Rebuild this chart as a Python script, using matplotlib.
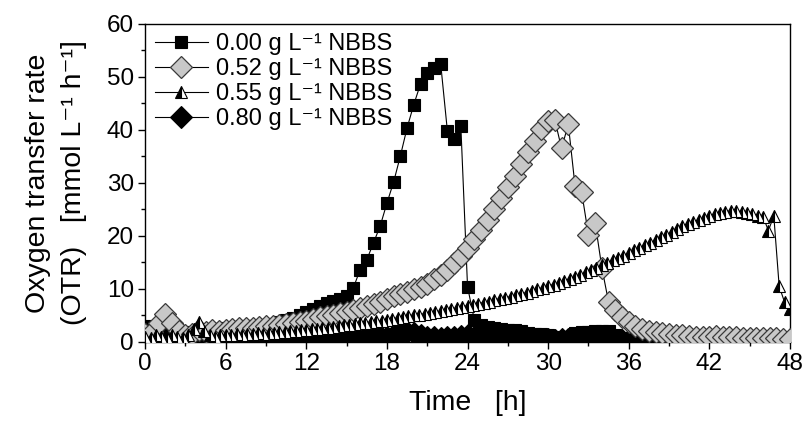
import numpy as np
import matplotlib
matplotlib.use("Agg")
import matplotlib.pyplot as plt
from matplotlib.ticker import MultipleLocator

plt.rcParams['font.family'] = ['Liberation Sans', 'DejaVu Sans']

labels = ["0.00 g L⁻¹ NBBS", "0.52 g L⁻¹ NBBS",
          "0.55 g L⁻¹ NBBS", "0.80 g L⁻¹ NBBS"]

# sampling step (h) of each series
dt_sq = 0.5
dt_gd = 0.5
dt_tr = 0.4
dt_bd = 0.5

otr_000 = [3.0, 2.8, 2.6, 2.3, 2.0, 1.8, 1.6, 1.8, 2.0, 2.2,
           2.4, 2.5, 2.6, 2.7, 2.8, 2.9, 3.0, 3.0, 3.1, 3.4,
           3.8, 4.1, 4.5, 5.0, 5.6, 6.2, 6.8, 7.3, 7.7, 8.0,
           8.6, 10.2, 13.6, 15.5, 18.7, 21.9, 26.2, 30.2, 35.1, 40.4,
           44.8, 48.7, 50.7, 51.7, 52.5, 39.8, 38.3, 40.8, 10.4, 4.2,
           3.2, 2.8, 2.6, 2.5, 2.3, 2.2, 2.0, 1.7, 1.5, 1.4,
           1.2, 0.9, 0.8, 0.9, 1.6, 1.8, 1.9, 2.0, 2.1, 2.0,
           1.2, 0.6, 0.5, 0.4, 0.4, 0.4, 0.3, 0.3, 0.4, 0.3,
           0.3, 0.3, 0.4, 0.3, 0.3, 0.3, 0.3, 0.4, 0.3, 0.3,
           0.3, 0.3, 0.3, 0.3, 0.3, 0.3, 0.3]

otr_052 = [1.5, 1.8, 3.6, 5.2, 3.6, 2.0, 1.2, 1.5, 2.2, 1.8,
           2.2, 2.0, 2.3, 2.5, 2.6, 2.6, 2.7, 2.8, 2.9, 3.0,
           3.2, 3.4, 3.6, 3.8, 4.0, 4.3, 4.6, 4.9, 5.1, 5.4,
           5.7, 6.0, 6.3, 6.7, 7.1, 7.6, 8.1, 8.6, 9.0, 9.4,
           9.9, 10.4, 10.9, 11.8, 12.6, 13.6, 14.8, 16.2, 17.8, 19.5,
           21.2, 23.0, 25.0, 27.2, 29.2, 31.4, 33.6, 35.8, 38.0, 40.2,
           41.7, 41.9, 36.5, 41.1, 29.5, 28.2, 20.2, 22.5, 14.0, 7.5,
           6.0, 4.7, 3.7, 3.0, 2.5, 2.1, 1.8, 1.6, 1.4, 1.3,
           1.2, 1.1, 1.0, 1.0, 0.9, 1.1, 1.0, 0.9, 0.9, 0.8,
           0.8, 0.8, 0.7, 0.7, 0.7, 0.6, 0.6]

otr_055 = [1.0, 0.8, 1.2, 1.0, 0.8, 1.2, 1.0, 0.8, 1.3, 2.4,
           3.8, 2.0, 1.2, 1.0, 1.2, 1.3, 1.2, 1.4, 1.3, 1.5,
           1.4, 1.6, 1.5, 1.7, 1.6, 1.8, 1.9, 2.0, 2.1, 2.2,
           2.3, 2.4, 2.5, 2.6, 2.7, 2.8, 3.0, 3.1, 3.2, 3.3,
           3.5, 3.6, 3.7, 3.9, 4.0, 4.2, 4.3, 4.5, 4.6, 4.8,
           5.0, 5.1, 5.3, 5.5, 5.6, 5.8, 6.0, 6.2, 6.4, 6.6,
           6.8, 7.0, 7.2, 7.4, 7.6, 7.9, 8.1, 8.3, 8.5, 8.8,
           9.0, 9.3, 9.6, 9.9, 10.2, 10.5, 10.8, 11.2, 11.5, 11.9,
           12.3, 12.7, 13.1, 13.5, 14.0, 14.5, 14.9, 15.4, 15.8, 16.3,
           16.8, 17.3, 17.8, 18.2, 18.7, 19.2, 19.7, 20.2, 20.8, 21.3,
           21.8, 22.2, 22.6, 23.0, 23.4, 23.8, 24.1, 24.4, 24.6, 24.7,
           24.7, 24.6, 24.4, 24.1, 23.8, 23.6, 21.0, 23.8, 10.5, 7.5,
           6.2]

otr_080 = [0.6, 0.8, 1.0, 0.9, 0.7, 0.6, 0.8, 0.9, 0.7, 0.6,
           0.7, 0.6, 0.5, 0.6, 0.5, 0.6, 0.5, 0.4, 0.5, 0.4,
           0.5, 0.4, 0.5, 0.6, 0.5, 0.6, 0.7, 0.6, 0.7, 0.8,
           0.7, 0.8, 0.9, 0.8, 1.0, 1.1, 1.0, 1.2, 1.5, 1.8,
           1.6, 1.2, 1.0, 0.9, 0.8, 0.9, 1.0, 1.1, 1.2, 1.0,
           0.9, 0.8, 0.7, 0.7, 0.6, 0.6, 0.5, 0.5, 0.6, 0.5,
           0.5, 0.4, 0.5, 0.5, 0.4, 0.4, 0.5, 0.4, 0.4, 0.5,
           0.4, 0.4, 0.4, 0.5, 0.4, 0.4, 0.4, 0.4, 0.5, 0.4,
           0.4, 0.4, 0.4, 0.4, 0.5, 0.4, 0.4, 0.4, 0.4, 0.4,
           0.4, 0.4, 0.4, 0.4, 0.4, 0.4, 0.4]

x_ticks = [0, 6, 12, 18, 24, 30, 36, 42, 48]
y_ticks = [0, 10, 20, 30, 40, 50, 60]

t_sq = np.arange(len(otr_000)) * dt_sq
t_gd = np.arange(len(otr_052)) * dt_gd
t_tr = np.arange(len(otr_055)) * dt_tr
t_bd = np.arange(len(otr_080)) * dt_bd

fig = plt.figure(figsize=(8.11, 4.21), dpi=100)
ax = fig.add_axes([0.179, 0.188, 0.795, 0.755])

ms = 8.5
msd = 11
lw = 0.8
h4, = ax.plot(t_bd, otr_080, '-', color='black', lw=lw, marker='D', ms=msd,
              mfc='black', mec='black', mew=0.8, zorder=2)
h1, = ax.plot(t_sq, otr_000, '-', color='black', lw=lw, marker='s', ms=ms,
              mfc='black', mec='black', mew=0.8, zorder=3)
h2, = ax.plot(t_gd, otr_052, '-', color='black', lw=lw, marker='D', ms=msd,
              mfc='#c8c8c8', mec='#3a3a3a', mew=0.9, zorder=4)
h3, = ax.plot(t_tr, otr_055, '-', color='black', lw=lw, marker='^', ms=ms,
              mfc='black', mfcalt='white', fillstyle='left', mec='black', mew=0.8,
              zorder=5)

ax.set_xlim(0, 48)
ax.set_ylim(0, 60)
ax.set_xticks(x_ticks)
ax.set_yticks(y_ticks)
ax.xaxis.set_minor_locator(MultipleLocator(3))
ax.yaxis.set_minor_locator(MultipleLocator(5))
ax.tick_params(axis='both', which='major', direction='out', length=5, width=1,
               labelsize=17.5, pad=3)
ax.tick_params(axis='both', which='minor', direction='out', length=3, width=1)
ax.tick_params(top=False, right=False, which='both')
for s in ax.spines.values():
    s.set_linewidth(1.0)

ax.set_xlabel("Time   [h]", fontsize=20.5, labelpad=11)
ax.set_ylabel("Oxygen transfer rate\n(OTR)   [mmol L⁻¹ h⁻¹]",
              fontsize=20.5, labelpad=14, linespacing=1.5)

leg = ax.legend([h1, h2, h3, h4], labels, loc='upper left', frameon=False,
                fontsize=17, handlelength=2.25, handletextpad=0.35,
                labelspacing=0.12, borderaxespad=0.1, borderpad=0.3,
                numpoints=1)

fig.savefig("out.png", dpi=100)
